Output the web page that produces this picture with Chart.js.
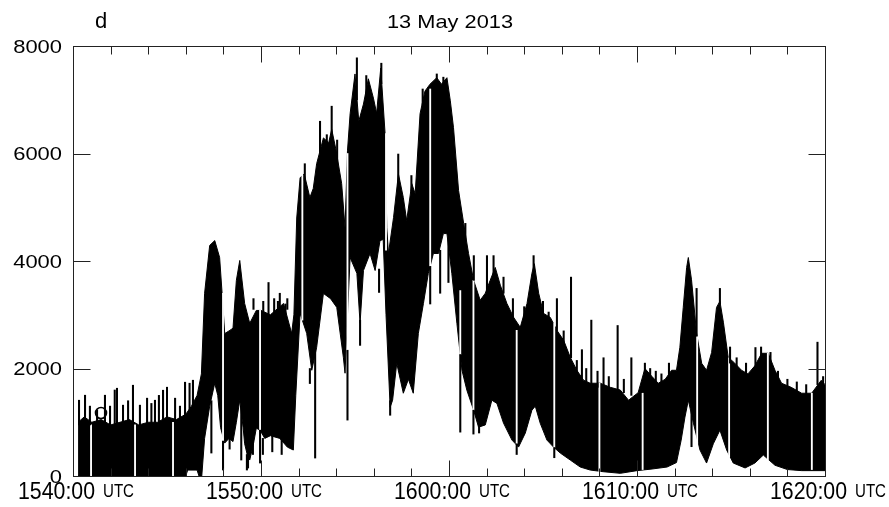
<!DOCTYPE html>
<html>
<head>
<meta charset="utf-8">
<script src="https://cdn.jsdelivr.net/npm/chart.js@4.4.1/dist/chart.umd.min.js"></script>
<style>
  html, body { margin: 0; padding: 0; background: #fff; }
  canvas { display: block; }
</style>
</head>
<body>
<canvas id="chart" width="889" height="507"></canvas>
<script>
"use strict";

// time axis: minutes after 15:40 UTC
const xTicks = [0, 10, 20, 30, 40];
const xTickLabels = ["1540:00", "1550:00", "1600:00", "1610:00", "1620:00"];
const yTicks = [0, 2000, 4000, 6000, 8000];

// upper envelope of the signal
const upperT = [0.27, 0.6, 1.0, 1.5, 2.0, 2.5, 3.0, 3.5, 4.0, 4.5,
  5.0, 5.5, 6.0, 6.3, 6.6, 6.83, 7.0, 7.27, 7.54, 7.8,
  7.95, 8.07, 8.3, 8.51, 8.69, 8.87, 9.13, 9.4, 9.75, 10.0,
  10.5, 11.2, 11.63, 11.75, 11.9, 12.08, 12.3, 12.6, 12.78, 12.96,
  13.32, 13.6, 13.76, 14.0, 14.29, 14.47, 14.6, 14.74, 15.0, 15.2,
  15.45, 15.71, 15.98, 16.15, 16.37, 16.6, 16.69, 16.78, 17.05, 17.31,
  17.57, 17.75, 18.02, 18.2, 18.46, 18.72, 18.99, 19.35, 19.6, 19.89,
  20.07, 20.24, 20.51, 20.78, 21.04, 21.31, 21.66, 21.93, 22.19, 22.46,
  22.73, 23.08, 23.44, 23.79, 24.15, 24.41, 24.54, 24.77, 25.03, 25.39,
  25.74, 26.1, 26.45, 26.8, 27.16, 27.51, 28.05, 28.58, 29.11, 29.55,
  30.06, 30.42, 30.8, 31.13, 31.5, 31.84, 32.1, 32.28, 32.46, 32.64,
  32.73, 32.9, 33.17, 33.44, 33.7, 33.97, 34.23, 34.41, 34.6, 34.85,
  35.2, 35.56, 35.9, 36.27, 36.63, 36.98, 37.34, 37.69, 38.2, 38.76,
  39.29, 39.8, 40];
const upperV = [1000, 1100, 1000, 1050, 950, 1000, 1050, 950, 1000, 1000,
  1100, 1050, 1150, 1300, 1500, 1900, 3400, 4290, 4380, 4065,
  3300, 2650, 2700, 2750, 3640, 4010, 3210, 2840, 3080, 3080,
  3000, 3210, 2654, 3000, 4800, 5550, 5620, 5180, 5350, 5810,
  6290, 6200, 6450, 6050, 5440, 4620, 6050, 6740, 7480, 6600,
  6920, 7390, 7030, 6750, 7590, 6370, 4620, 4140, 4810, 5620,
  5180, 4750, 5440, 5250, 6740, 7160, 7290, 7410, 7290, 7410,
  6980, 6480, 5310, 4700, 4140, 3640, 3270, 3400, 3640, 3880,
  3550, 3210, 2950, 2766, 3210, 3770, 3950, 3400, 3025, 2950,
  2710, 2524, 2209, 1967, 1782, 1726, 1726, 1650, 1600, 1410,
  1550, 2000, 1850, 1726, 1800, 1967, 1967, 2394, 3137, 3880,
  4065, 3650, 2654, 2097, 1967, 2300, 3137, 3250, 2850, 2209,
  2100, 1967, 1900, 2050, 2283, 2283, 1967, 1726, 1650, 1540,
  1540, 1780, 1700];

// lower envelope of the signal
const lowerT = [0.27, 6.0, 6.1, 6.6, 6.7, 6.85, 7.0, 7.27, 7.54, 7.7,
  7.85, 8.07, 8.3, 8.51, 8.69, 8.87, 9.05, 9.13, 9.3, 9.4,
  9.6, 9.75, 9.95, 10.2, 10.5, 11.0, 11.4, 11.72, 11.85, 12.08,
  12.43, 12.7, 12.96, 13.32, 13.7, 14.03, 14.38, 14.47, 14.6, 14.74,
  15.1, 15.27, 15.45, 15.8, 16.07, 16.33, 16.5, 16.65, 16.87, 17.0,
  17.22, 17.57, 17.84, 18.1, 18.37, 18.64, 18.9, 19.17, 19.44, 19.7,
  19.89, 20.15, 20.42, 20.69, 20.95, 21.31, 21.57, 21.93, 22.28, 22.55,
  22.9, 23.35, 23.7, 24.06, 24.41, 24.59, 24.85, 25.21, 25.56, 25.92,
  26.45, 26.98, 27.51, 28.2, 29.11, 30.0, 30.8, 31.6, 32.1, 32.35,
  32.55, 32.73, 33.0, 33.35, 33.7, 34.06, 34.41, 34.77, 35.12, 35.75,
  36.27, 36.72, 37.34, 38.0, 38.76, 40];
const lowerV = [0, 0, 110, 110, 0, 0, 700, 1300, 1726, 1500,
  900, 612, 700, 640, 1000, 1410, 900, 600, 350, 297,
  600, 890, 853, 700, 750, 700, 538, 483, 1500, 3025,
  2654, 1967, 2394, 3397, 3300, 3137, 2209, 1912, 3000, 4065,
  3770, 2840, 3823, 4140, 3823, 4380, 4400, 3000, 1280, 1410,
  2097, 1540, 1800, 1540, 2654, 3210, 3770, 4140, 4140, 4510,
  4510, 3770, 2840, 1967, 1596, 1225, 909, 950, 1410, 1350,
  984, 668, 538, 800, 1225, 1300, 984, 668, 538, 427,
  297, 167, 111, 80, 50, 100, 130, 167, 250, 668,
  1095, 1410, 984, 483, 241, 600, 853, 483, 241, 150,
  241, 390, 200, 120, 100, 100];

// single black spikes (time, bottom, top)
const spikeT = [0.32, 0.64, 0.9, 1.28, 1.7, 1.97, 2.22, 2.34, 2.66, 2.93,
  3.19, 3.56, 3.94, 4.17, 4.36, 4.57, 4.79, 5.0, 5.43, 5.69,
  5.96, 6.2, 6.38, 7.36, 7.98, 8.33, 8.95, 9.25, 9.31, 9.57,
  9.6, 9.95, 10.1, 10.12, 10.4, 10.6, 10.7, 10.9, 11.0, 11.1,
  11.3, 11.4, 12.33, 12.6, 12.88, 13.14, 13.5, 13.76, 14.05, 14.6,
  15.1, 15.27, 15.6, 16.28, 16.4, 16.87, 17.3, 18.0, 18.6, 19.0,
  19.35, 19.53, 19.7, 19.97, 20.6, 20.87, 21.3, 21.32, 21.6, 22.02,
  22.37, 22.9, 23.4, 23.6, 24.0, 24.5, 25.0, 25.3, 25.6, 25.74,
  26.1, 26.49, 26.8, 27.07, 27.3, 27.57, 27.9, 28.22, 28.5, 28.97,
  29.3, 29.7, 30.42, 30.7, 31.0, 31.3, 31.7, 32.9, 33.17, 34.41,
  34.95, 35.3, 35.8, 36.3, 36.6, 37.1, 37.5, 38.0, 38.5, 39.0,
  39.6, 39.9];
const spikeLo = [950, 950, 950, 950, 950, 950, 950, 950, 950, 950,
  950, 950, 950, 950, 950, 950, 950, 950, 950, 950,
  1000, 1200, 1200, 427, 111, 500, 297, 111, 148, 400,
  3100, 241, 400, 2900, 2800, 450, 3000, 3000, 3100, 400,
  3000, 3100, 5500, 1720, 334, 6000, 6000, 6200, 5800, 1040,
  7000, 2430, 7000, 3415, 7300, 1130, 5400, 5300, 6900, 3200,
  7300, 3400, 7300, 3600, 816, 4400, 780, 3640, 800, 3400,
  3700, 3400, 2900, 400, 2800, 3800, 2900, 2800, 340, 2700,
  2400, 2200, 1900, 1800, 1700, 1700, 1650, 1700, 1600, 1600,
  1550, 1500, 1900, 1700, 1650, 1700, 1800, 545, 2600, 3200,
  2100, 1900, 1850, 2000, 2200, 2100, 1750, 1600, 1500, 1500,
  1700, 1700];
const spikeHi = [1410, 1503, 1300, 1225, 1503, 1300, 1600, 1633, 1318, 1400,
  1689, 1318, 1448, 1350, 1410, 1500, 1596, 1652, 1448, 1300,
  1745, 1726, 1782, 1400, 650, 700, 1300, 400, 400, 700,
  3300, 853, 700, 3250, 3600, 750, 3300, 3250, 3400, 700,
  3200, 3300, 5810, 2000, 2400, 6600, 6350, 6880, 6250, 2340,
  7780, 2900, 7450, 3850, 7680, 1400, 5990, 5590, 7200, 3900,
  7480, 4200, 7420, 4400, 2260, 4700, 1225, 4100, 1000, 4100,
  4100, 3700, 3300, 600, 3150, 4100, 3250, 3050, 530, 3300,
  2700, 3700, 2150, 2350, 2000, 2900, 1950, 2200, 1850, 2800,
  1800, 2200, 2100, 2000, 1950, 1900, 2100, 1200, 3490, 3490,
  2400, 2200, 2100, 2390, 2400, 2300, 1950, 1800, 1750, 1700,
  2490, 1850];

// white gap lines through the black band (time, bottom, top)
const gapT = [0.96, 3.3, 5.32, 7.98, 9.95, 12.2, 14.6, 16.65, 19.0, 20.6,
  21.3, 23.6, 25.6, 28.0, 30.3, 33.2, 34.9, 36.96, 39.3];
const gapLo = [0, 0, 0, 650, 853, 2900, 2340, 4200, 3900, 2260,
  1225, 600, 530, 80, 120, 483, 353, 300, 120];
const gapHi = [950, 950, 1000, 3400, 3080, 5600, 6000, 6370, 7200, 3450,
  3640, 2710, 2840, 1726, 1540, 2600, 2200, 2283, 1540];

const toPoints = (ts, vs) => ts.map((t, i) => ({ x: t, y: vs[i] }));
const toBars = (ts, lo, hi) => ts.map((t, i) => ({ x: t, y: [lo[i], hi[i]] }));

const FONT = '"Liberation Sans", Arial, Helvetica, sans-serif';

// draw text squeezed or stretched to a given width
const fitText = (ctx, str, x, y, size, width, align) => {
    ctx.font = size + "px " + FONT;
    const w = ctx.measureText(str).width;
    ctx.save();
    ctx.translate(x, y);
    ctx.scale(width ? width / w : 1, 1);
    ctx.textAlign = align;
    ctx.textBaseline = "alphabetic";
    ctx.fillStyle = "#000";
    ctx.fillText(str, 0, 0);
    ctx.restore();
};

const framePlugin = {
    id: "frame",
    afterDatasetsDraw(chart) {
        const ctx = chart.ctx;
        const a = chart.chartArea;
        const xs = chart.scales.x;
        const ys = chart.scales.y;
        const L = Math.round(a.left) + 0.5, R = Math.round(a.right) + 0.5;
        const T = Math.round(a.top) + 0.5, B = Math.round(a.bottom) + 0.5;
        ctx.save();
        ctx.strokeStyle = "#222";
        ctx.lineWidth = 1;
        ctx.strokeRect(L, T, R - L, B - T);
        ctx.beginPath();
        for (let m = 2; m < 40; m += 2) {
            const px = Math.round(xs.getPixelForValue(m)) + 0.5;
            const len = m % 10 === 0 ? 16 : 8;
            ctx.moveTo(px, T); ctx.lineTo(px, T + len);
            ctx.moveTo(px, B); ctx.lineTo(px, B - len);
        }
        yTicks.forEach(v => {
            const py = Math.round(ys.getPixelForValue(v)) + 0.5;
            ctx.moveTo(L, py); ctx.lineTo(L + 17, py);
            ctx.moveTo(R, py); ctx.lineTo(R - 17, py);
        });
        ctx.stroke();
        ctx.restore();
    },
    afterDraw(chart) {
        const ctx = chart.ctx;
        const xs = chart.scales.x;
        const ys = chart.scales.y;
        yTicks.forEach(v => {
            const py = ys.getPixelForValue(v);
            const s = String(v);
            fitText(ctx, s, 62, py + 6.7, 18.6, s.length * 12.2, "right");
        });
        xTicks.forEach((t, i) => {
            const px = xs.getPixelForValue(t);
            fitText(ctx, xTickLabels[i], px + 22, 499, 24, 77, "right");
            fitText(ctx, "UTC", px + 30, 497, 18, 31, "left");
        });
        fitText(ctx, "13 May 2013", 450, 28, 18.5, 126, "center");
        fitText(ctx, "d", 95, 28, 22, 0, "left");
        // small circled marker near the start of the trace
        ctx.save();
        ctx.strokeStyle = "#000";
        ctx.lineWidth = 1.6;
        ctx.beginPath();
        ctx.arc(101, 413, 5.5, 0, Math.PI * 2);
        ctx.stroke();
        ctx.restore();
    }
};

const ctx = document.getElementById("chart").getContext("2d");

const chart = new Chart(ctx, {
    type: "line",
    data: {
        datasets: [
            {
                label: "upper",
                data: toPoints(upperT, upperV),
                borderColor: "#000",
                backgroundColor: "#000",
                borderWidth: 1,
                pointRadius: 0,
                tension: 0,
                fill: "origin",
                order: 4
            },
            {
                // white under the lower edge, covers the black fill again
                label: "lower",
                data: toPoints(lowerT, lowerV),
                borderColor: "#000",
                backgroundColor: "#fff",
                borderWidth: 1,
                pointRadius: 0,
                tension: 0,
                fill: "origin",
                order: 3
            },
            {
                type: "bar",
                label: "gaps",
                data: toBars(gapT, gapLo, gapHi),
                backgroundColor: "#fff",
                borderWidth: 0,
                barThickness: 1.2,
                grouped: false,
                order: 2
            },
            {
                type: "bar",
                label: "spikes",
                data: toBars(spikeT, spikeLo, spikeHi),
                backgroundColor: "#000",
                borderWidth: 0,
                barThickness: 1.4,
                grouped: false,
                order: 1
            }
        ]
    },
    options: {
        responsive: false,
        animation: false,
        devicePixelRatio: 1,
        layout: { padding: { left: 73, right: 64, top: 46, bottom: 31 } },
        plugins: {
            legend: { display: false },
            tooltip: { enabled: false }
        },
        scales: {
            x: { type: "linear", min: 0, max: 40, offset: false, display: false },
            y: { type: "linear", min: 0, max: 8000, display: false }
        }
    },
    plugins: [framePlugin]
});
</script>
</body>
</html>
